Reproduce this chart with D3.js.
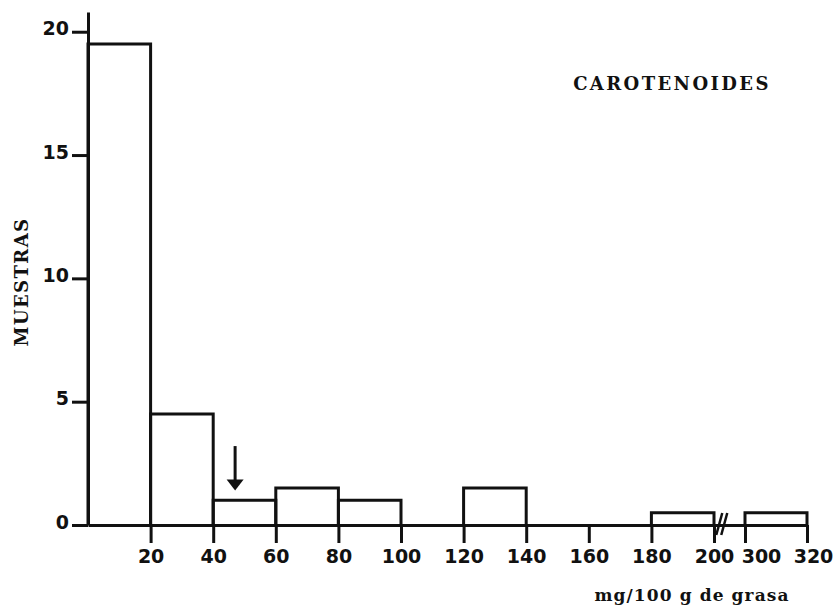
<!DOCTYPE html>
<html>
<head>
<meta charset="utf-8">
<script src="https://cdn.jsdelivr.net/npm/d3@7"></script>
<style>
  body { margin: 0; background: #fff; }
  svg { display: block; }
</style>
</head>
<body>
<svg id="hist"></svg>
<script>
// histogram bins (mg/100 g de grasa) and number of samples
var binLow  = [0, 20, 40, 60, 80, 100, 120, 140, 160, 180, 300]
var binHigh = [20, 40, 60, 80, 100, 120, 140, 160, 180, 200, 320]
var counts  = [19.5, 4.5, 1, 1.5, 1, 0, 1.5, 0, 0, 0.5, 0.5]

var xTicks = [20, 40, 60, 80, 100, 120, 140, 160, 180, 200, 300, 320]
var yTicks = [0, 5, 10, 15, 20]

// arrow marking the reference value
var arrowAt = 47
var arrowFrom = 3.2
var arrowTo = 1.4

// axis break between 200 and 300
var breakAt = 225

var dimensions = {
    width: 836,
    height: 609
}

var svg = d3.select("#hist")
            .attr("width", dimensions.width)
            .attr("height", dimensions.height)

var ink = "#111"

// piecewise scale: 0-200 normal, then a short gap, then 300-320
var xScale = d3.scaleLinear()
               .domain([0, 200, 300, 320])
               .range([88, 714, 745, 807])

var yScale = d3.scaleLinear()
               .domain([0, 20.8])
               .range([525, 12])

var bins = counts.map((c, i) => ({lo: binLow[i], hi: binHigh[i], n: c}))

// open boxes: left side, top, right side
svg.append("g")
   .selectAll("path")
   .data(bins.filter(d => d.n > 0))
   .enter()
   .append("path")
   .attr("d", d => "M" + xScale(d.lo) + "," + yScale(0) +
                   "V" + yScale(d.n) +
                   "H" + xScale(d.hi) +
                   "V" + yScale(0))
   .style("fill", "none")
   .style("stroke", ink)
   .style("stroke-width", 3)
   .style("stroke-linejoin", "miter")

var xAxisgen = d3.axisBottom(xScale)
                 .tickValues(xTicks)
                 .tickSize(18)
                 .tickSizeOuter(0)
                 .tickPadding(7)

var yAxisgen = d3.axisLeft(yScale)
                 .tickValues(yTicks)
                 .tickSize(16)
                 .tickSizeOuter(0)
                 .tickPadding(3)

var xAxis = svg.append("g")
               .attr("transform", `translate(0,${yScale(0)})`)
               .call(xAxisgen)

// labels after the break sit a bit to the right of their ticks, as in the print
xAxis.selectAll(".tick text")
     .attr("dx", d => d == 300 ? 16 : (d == 320 ? 6 : 0))

var yAxis = svg.append("g")
               .attr("transform", `translate(${xScale(0)},0)`)
               .call(yAxisgen)

yAxis.selectAll(".tick text").attr("dy", "0.16em")

svg.selectAll(".domain, .tick line")
   .style("stroke", ink)
   .style("stroke-width", 3)

svg.selectAll(".tick text")
   .style("font-family", "'DejaVu Sans', sans-serif")
   .style("font-weight", "bold")
   .style("font-size", "19px")
   .style("fill", ink)

// break marks //
var bx = xScale(breakAt)
svg.append("g")
   .selectAll("line")
   .data([-1, 1])
   .enter()
   .append("line")
   .attr("x1", d => bx + d * 2.5 - 3)
   .attr("y1", yScale(0) + 10)
   .attr("x2", d => bx + d * 2.5 + 3)
   .attr("y2", yScale(0) - 12)
   .style("stroke", ink)
   .style("stroke-width", 2.5)

// arrow
var ax = xScale(arrowAt)
svg.append("line")
   .attr("x1", ax).attr("x2", ax)
   .attr("y1", yScale(arrowFrom))
   .attr("y2", yScale(arrowTo) - 8)
   .style("stroke", ink)
   .style("stroke-width", 3)

svg.append("path")
   .attr("d", "M" + (ax - 8.5) + "," + (yScale(arrowTo) - 11) +
              "L" + (ax + 8.5) + "," + (yScale(arrowTo) - 11) +
              "L" + ax + "," + yScale(arrowTo) + "Z")
   .style("fill", ink)

// texts
svg.append("text")
   .attr("x", 672)
   .attr("y", 90)
   .attr("text-anchor", "middle")
   .style("font-family", "'DejaVu Serif', serif")
   .style("font-weight", "bold")
   .style("font-size", "18px")
   .style("letter-spacing", "2.4px")
   .style("fill", ink)
   .text("CAROTENOIDES")

svg.append("text")
   .attr("x", 692)
   .attr("y", 601)
   .attr("text-anchor", "middle")
   .style("font-family", "'DejaVu Serif', serif")
   .style("font-weight", "bold")
   .style("font-size", "17px")
   .style("letter-spacing", "1.1px")
   .style("fill", ink)
   .text("mg/100 g de grasa")

svg.append("text")
   .attr("transform", "translate(28,282) rotate(-90)")
   .attr("text-anchor", "middle")
   .style("font-family", "'DejaVu Serif', serif")
   .style("font-weight", "bold")
   .style("font-size", "18px")
   .style("letter-spacing", "1.4px")
   .style("fill", ink)
   .text("MUESTRAS")
</script>
</body>
</html>
